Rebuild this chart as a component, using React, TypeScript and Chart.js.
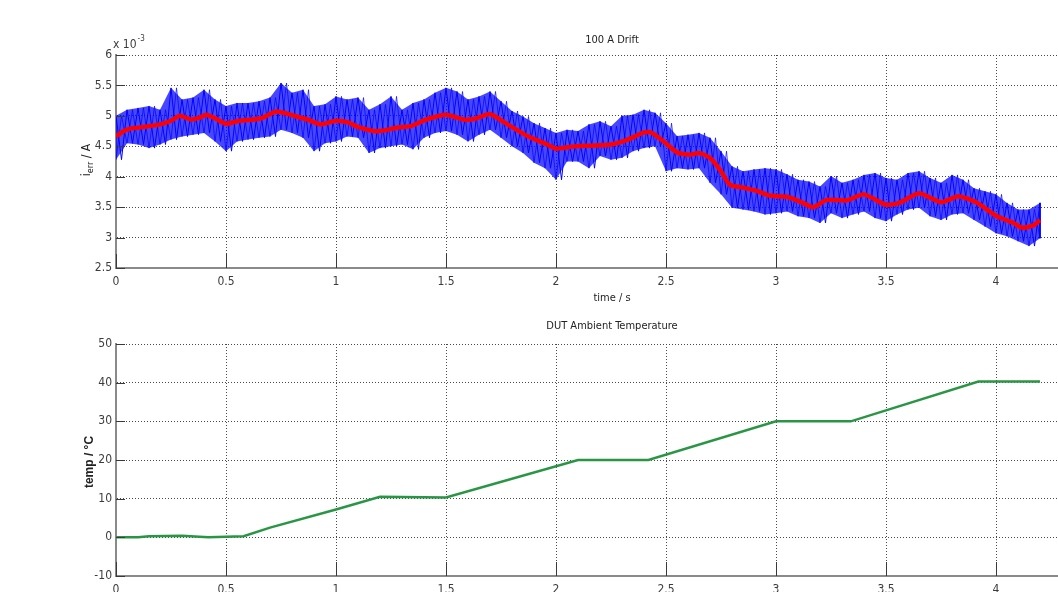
import React, { useEffect, useRef } from "react";
import { Chart, registerables } from "chart.js";

Chart.register(...registerables);

const FONT = "'Liberation Sans Narrow', 'DejaVu Sans Condensed', 'Arial Narrow', 'Liberation Sans', sans-serif";

// ---- top plot: 100 A drift (values in units of 1e-3 A) ----
const noiseTimes = [
  0, 0.05, 0.1, 0.15, 0.2, 0.25, 0.3, 0.35, 0.4, 0.45, 0.5, 0.55, 0.6, 0.65, 0.7, 0.75, 0.8, 0.85, 0.9, 0.95,
  1.0, 1.05, 1.1, 1.15, 1.2, 1.25, 1.3, 1.35, 1.4, 1.45, 1.5, 1.55, 1.6, 1.65, 1.7, 1.75, 1.8, 1.85, 1.9, 1.95,
  2.0, 2.05, 2.1, 2.15, 2.2, 2.25, 2.3, 2.35, 2.4, 2.45, 2.5, 2.55, 2.6, 2.65, 2.7, 2.75, 2.8, 2.85, 2.9, 2.95,
  3.0, 3.05, 3.1, 3.15, 3.2, 3.25, 3.3, 3.35, 3.4, 3.45, 3.5, 3.55, 3.6, 3.65, 3.7, 3.75, 3.8, 3.85, 3.9, 3.95,
  4.0, 4.05, 4.1, 4.15, 4.2,
];
const noiseHigh = [
  5.0, 5.1, 5.13, 5.16, 5.1, 5.46, 5.27, 5.3, 5.43, 5.27, 5.16, 5.21, 5.21, 5.24, 5.3, 5.54, 5.38, 5.43, 5.16, 5.19,
  5.32, 5.27, 5.3, 5.1, 5.19, 5.32, 5.1, 5.21, 5.27, 5.38, 5.46, 5.4, 5.27, 5.32, 5.4, 5.24, 5.08, 4.99, 4.88, 4.8,
  4.72, 4.77, 4.75, 4.86, 4.91, 4.83, 5.0, 5.02, 5.1, 5.05, 4.88, 4.67, 4.69, 4.72, 4.64, 4.42, 4.17, 4.09, 4.12, 4.14,
  4.12, 4.04, 3.95, 3.92, 3.84, 4.01, 3.9, 3.95, 4.03, 4.06, 3.98, 3.95, 4.06, 4.09, 3.98, 3.9, 4.03, 3.95, 3.81, 3.76,
  3.71, 3.57, 3.46, 3.46, 3.57,
];
const noiseLow = [
  4.28, 4.55, 4.53, 4.47, 4.53, 4.61, 4.66, 4.69, 4.72, 4.58, 4.42, 4.58, 4.61, 4.64, 4.66, 4.77, 4.72, 4.64, 4.42, 4.55,
  4.58, 4.66, 4.64, 4.39, 4.47, 4.5, 4.53, 4.45, 4.64, 4.72, 4.75, 4.69, 4.58, 4.69, 4.77, 4.64, 4.5, 4.39, 4.23, 4.14,
  3.95, 4.25, 4.25, 4.14, 4.34, 4.28, 4.31, 4.42, 4.47, 4.5, 4.09, 4.14, 4.12, 4.14, 3.9, 3.71, 3.49, 3.46, 3.43, 3.38,
  3.4, 3.43, 3.35, 3.32, 3.24, 3.4, 3.32, 3.38, 3.43, 3.32, 3.27, 3.38, 3.46, 3.49, 3.35, 3.29, 3.38, 3.4, 3.29, 3.18,
  3.07, 3.02, 2.94, 2.86, 2.99,
];
const smoothTimes = [
  0, 0.03, 0.064, 0.13, 0.2, 0.25, 0.29, 0.34, 0.38, 0.41, 0.45, 0.5, 0.55, 0.66, 0.73, 0.82, 0.87, 0.93, 1.0, 1.06,
  1.09, 1.17, 1.22, 1.28, 1.34, 1.41, 1.5, 1.58, 1.63, 1.7, 1.78, 1.87, 1.96, 2.0, 2.06, 2.15, 2.25, 2.32, 2.4, 2.43,
  2.49, 2.55, 2.61, 2.65, 2.7, 2.75, 2.79, 2.85, 2.91, 2.97, 3.05, 3.11, 3.17, 3.23, 3.32, 3.4, 3.5, 3.56, 3.65, 3.75,
  3.83, 3.91, 4.0, 4.08, 4.12, 4.17, 4.2,
];
const smoothValues = [
  4.66, 4.74, 4.79, 4.82, 4.86, 4.92, 5.0, 4.94, 4.97, 5.02, 4.96, 4.87, 4.91, 4.96, 5.07, 4.99, 4.94, 4.86, 4.92, 4.89,
  4.83, 4.75, 4.76, 4.81, 4.83, 4.94, 5.02, 4.94, 4.95, 5.03, 4.86, 4.67, 4.53, 4.46, 4.49, 4.51, 4.53, 4.6, 4.73, 4.73,
  4.58, 4.4, 4.36, 4.39, 4.31, 4.09, 3.87, 3.82, 3.77, 3.69, 3.67, 3.59, 3.5, 3.62, 3.61, 3.71, 3.54, 3.57, 3.73, 3.58,
  3.68, 3.58, 3.36, 3.24, 3.16, 3.2, 3.29,
];

// ---- bottom plot: DUT ambient temperature (°C) ----
const tempTimes = [0, 0.1, 0.15, 0.3, 0.42, 0.58, 0.7, 1.0, 1.2, 1.5, 2.1, 2.42, 3.0, 3.34, 3.92, 4.2];
const tempValues = [0, 0, 0.3, 0.4, 0, 0.3, 2.5, 7.2, 10.5, 10.3, 20, 20, 30, 30, 40.3, 40.3];

const timeAxis = { min: 0, max: 4.5, step: 0.5 };
const driftAxis = { min: 2.5, max: 6, step: 0.5 };
const tempAxis = { min: -10, max: 50, step: 10 };

const inwardTicks = {
  id: "inwardTicks",
  afterDatasetsDraw(chart: any, _args: any, opts: any) {
    const { ctx, chartArea, scales } = chart;
    const xs = scales.x;
    const ys = scales.y;
    ctx.save();
    ctx.strokeStyle = "#3a3a3a";
    ctx.lineWidth = 1;
    ctx.beginPath();
    xs.ticks.forEach((t: any) => {
      const px = Math.round(xs.getPixelForValue(t.value)) + 0.5;
      ctx.moveTo(px, chartArea.bottom);
      ctx.lineTo(px, chartArea.bottom - opts.xLen);
    });
    ys.ticks.forEach((t: any) => {
      const py = Math.round(ys.getPixelForValue(t.value)) + 0.5;
      ctx.moveTo(chartArea.left, py);
      ctx.lineTo(chartArea.left + opts.yLen, py);
    });
    ctx.stroke();
    ctx.restore();
  },
};

function fmt(v: number) {
  return String(Math.round(v * 10) / 10);
}

function makeX(height: number) {
  return {
    type: "linear",
    min: timeAxis.min,
    max: timeAxis.max,
    afterFit: (s: any) => {
      s.height = height;
    },
    ticks: {
      stepSize: timeAxis.step,
      padding: 7,
      color: "#3c3c3c",
      font: { family: FONT, size: 12 },
      maxRotation: 0,
      autoSkip: false,
      callback: (v: any) => fmt(Number(v)),
    },
    grid: { color: "#4a4a4a", lineWidth: 1, drawTicks: false },
    border: { display: true, color: "#8a8a8a", width: 2, dash: [1, 2] },
  };
}

function makeY(min: number, max: number, step: number) {
  return {
    type: "linear",
    min,
    max,
    afterFit: (s: any) => {
      s.width = 116;
    },
    ticks: {
      stepSize: step,
      padding: 4,
      color: "#3c3c3c",
      font: { family: FONT, size: 12 },
      autoSkip: false,
      callback: (v: any) => fmt(Number(v)),
    },
    grid: { color: "#4a4a4a", lineWidth: 1, drawTicks: false },
    border: { display: true, color: "#8a8a8a", width: 2, dash: [1, 2] },
  };
}

export default function App() {
  const topRef = useRef<HTMLCanvasElement>(null);
  const botRef = useRef<HTMLCanvasElement>(null);

  useEffect(() => {
    const highPts = noiseTimes.map((t, i) => ({ x: t, y: noiseHigh[i] }));
    const lowPts = noiseTimes.map((t, i) => ({ x: t, y: noiseLow[i] }));
    // trace that swings between the read extremes (high, then low half a step later)
    const zig: { x: number; y: number }[] = [];
    const zag: { x: number; y: number }[] = [];
    noiseTimes.forEach((t, i) => {
      const last = i === noiseTimes.length - 1;
      zig.push({ x: t, y: noiseHigh[i] });
      zig.push({ x: last ? t : t + 0.025, y: noiseLow[i] });
      zag.push({ x: t, y: noiseLow[i] });
      zag.push({ x: last ? t : t + 0.025, y: noiseHigh[i] });
    });
    const smooth = smoothTimes.map((t, i) => ({ x: t, y: smoothValues[i] }));

    const topTexts = {
      id: "topTexts",
      afterDraw(chart: any) {
        const { ctx } = chart;
        ctx.save();
        ctx.fillStyle = "#222";
        ctx.textAlign = "center";
        ctx.textBaseline = "middle";
        ctx.font = `11px ${FONT}`;
        ctx.fillText("100 A Drift", 612, 40);
        ctx.fillText("time / s", 612, 298);
        // multiplier
        ctx.fillStyle = "#3c3c3c";
        ctx.textAlign = "left";
        ctx.font = `12px ${FONT}`;
        ctx.fillText("x 10", 113, 45);
        const w = ctx.measureText("x 10").width;
        ctx.font = `8px ${FONT}`;
        ctx.fillText("-3", 113 + w + 1, 39);
        // y label i_err / A
        ctx.translate(87, 160);
        ctx.rotate(-Math.PI / 2);
        ctx.fillStyle = "#222";
        ctx.font = `12px ${FONT}`;
        const w1 = ctx.measureText("i").width;
        ctx.font = `9px ${FONT}`;
        const w2 = ctx.measureText("err").width;
        ctx.font = `12px ${FONT}`;
        const w3 = ctx.measureText(" / A").width;
        let x = -(w1 + w2 + w3) / 2;
        ctx.textAlign = "left";
        ctx.fillText("i", x, 0);
        x += w1;
        ctx.font = `9px ${FONT}`;
        ctx.fillText("err", x, 4);
        x += w2;
        ctx.font = `12px ${FONT}`;
        ctx.fillText(" / A", x, 0);
        ctx.restore();
      },
    };

    const botTexts = {
      id: "botTexts",
      afterDraw(chart: any) {
        const { ctx } = chart;
        ctx.save();
        ctx.fillStyle = "#222";
        ctx.textAlign = "center";
        ctx.textBaseline = "middle";
        ctx.font = `11px ${FONT}`;
        ctx.fillText("DUT Ambient Temperature", 612, 16);
        ctx.translate(90, 152);
        ctx.rotate(-Math.PI / 2);
        ctx.font = `bold 12px 'Liberation Sans', Arial, sans-serif`;
        ctx.fillText("temp / °C", 0, 0);
        ctx.restore();
      },
    };

    const top = new Chart(topRef.current as HTMLCanvasElement, {
      type: "line",
      data: {
        datasets: [
          {
            data: smooth,
            borderColor: "#ff0000",
            borderWidth: 4.5,
            pointRadius: 0,
            tension: 0.2,
            fill: false,
            order: 0,
          },
          {
            data: zig,
            borderColor: "#0000ff",
            borderWidth: 1,
            pointRadius: 0,
            tension: 0,
            fill: false,
            order: 1,
          },
          {
            data: zag,
            borderColor: "rgba(0,0,255,0.7)",
            borderWidth: 1,
            pointRadius: 0,
            tension: 0,
            fill: false,
            order: 2,
          },
          {
            data: highPts,
            borderColor: "rgba(0,0,255,0)",
            borderWidth: 0,
            pointRadius: 0,
            fill: false,
            order: 3,
          },
          {
            data: lowPts,
            borderColor: "rgba(0,0,255,0)",
            borderWidth: 0,
            pointRadius: 0,
            fill: "-1",
            backgroundColor: "rgba(0,0,255,0.72)",
            order: 4,
          },
        ],
      },
      options: {
        animation: false,
        responsive: false,
        layout: { padding: { left: 0, top: 55, right: 94, bottom: 0 } },
        plugins: {
          legend: { display: false },
          tooltip: { enabled: false },
          title: { display: false },
          inwardTicks: { xLen: 14, yLen: 9 },
        } as any,
        scales: {
          x: makeX(42),
          y: makeY(driftAxis.min, driftAxis.max, driftAxis.step),
        } as any,
      },
      plugins: [inwardTicks, topTexts],
    } as any);

    const bot = new Chart(botRef.current as HTMLCanvasElement, {
      type: "line",
      data: {
        datasets: [
          {
            data: tempTimes.map((t, i) => ({ x: t, y: tempValues[i] })),
            borderColor: "#2a9645",
            borderWidth: 2.5,
            pointRadius: 0,
            tension: 0,
            fill: false,
          },
        ],
      },
      options: {
        animation: false,
        responsive: false,
        layout: { padding: { left: 0, top: 34, right: 94, bottom: 0 } },
        plugins: {
          legend: { display: false },
          tooltip: { enabled: false },
          title: { display: false },
          inwardTicks: { xLen: 14, yLen: 9 },
        } as any,
        scales: {
          x: makeX(34),
          y: makeY(tempAxis.min, tempAxis.max, tempAxis.step),
        } as any,
      },
      plugins: [inwardTicks, botTexts],
    } as any);

    return () => {
      top.destroy();
      bot.destroy();
    };
  }, []);

  return (
    <div
      style={{
        position: "fixed",
        left: 0,
        top: 0,
        width: 1058,
        height: 592,
        overflow: "hidden",
        background: "#fff",
      }}
    >
      <canvas ref={topRef} width={1200} height={310} style={{ position: "absolute", left: 0, top: 0 }} />
      <canvas ref={botRef} width={1200} height={300} style={{ position: "absolute", left: 0, top: 310 }} />
    </div>
  );
}
